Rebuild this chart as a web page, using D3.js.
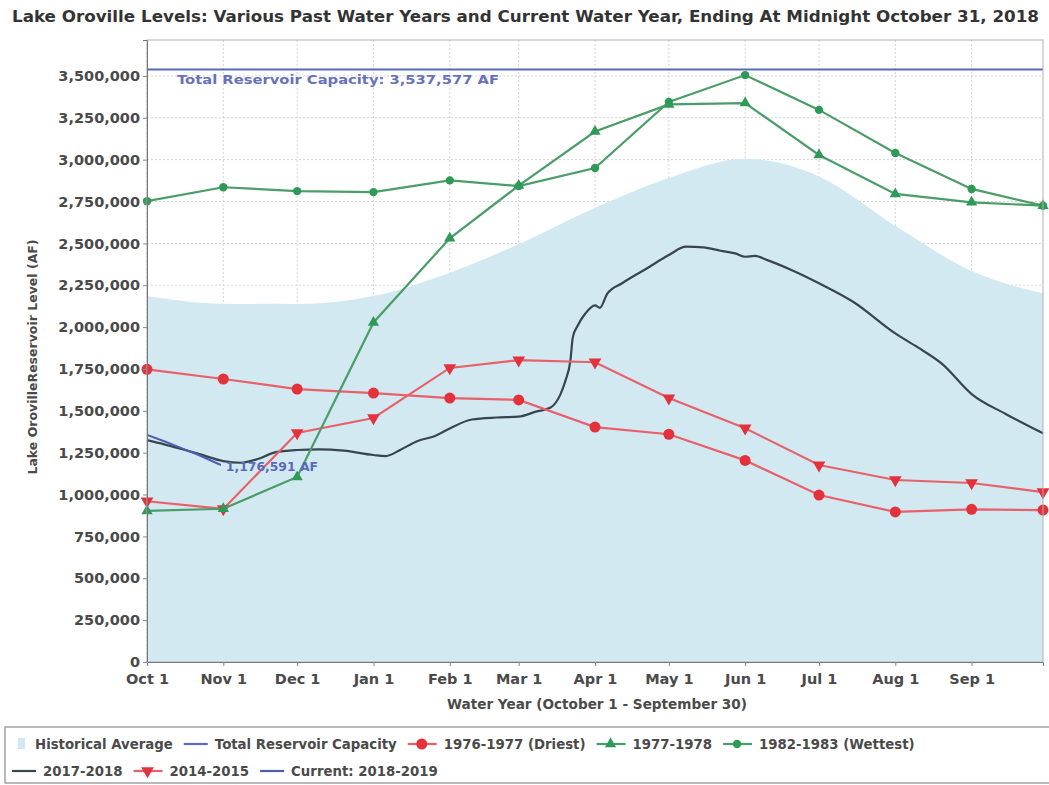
<!DOCTYPE html>
<html><head><meta charset="utf-8">
<script src="https://cdn.jsdelivr.net/npm/d3@7"></script>
<style>
body{margin:0;background:#fff}
svg{display:block}
text{font-family:"DejaVu Sans",sans-serif;font-weight:bold}
</style>
</head><body>
<svg id="chart" width="1049" height="785"></svg>
<script>
// ---------- DATA ----------
const tickDates = ["2017-10-01","2017-11-01","2017-12-01","2018-01-01","2018-02-01","2018-03-01","2018-04-01","2018-05-01","2018-06-01","2018-07-01","2018-08-01","2018-09-01"];
const tickLabels = ["Oct 1","Nov 1","Dec 1","Jan 1","Feb 1","Mar 1","Apr 1","May 1","Jun 1","Jul 1","Aug 1","Sep 1"];
const pointDates = ["2017-10-01","2017-11-01","2017-12-01","2018-01-01","2018-02-01","2018-03-01","2018-04-01","2018-05-01","2018-06-01","2018-07-01","2018-08-01","2018-09-01","2018-09-30"];
const historicalAverage = [2186000,2140000,2138000,2185000,2325000,2495000,2712000,2890000,3005000,2900000,2605000,2335000,2200000];
const driest1976_1977 = [1748000,1690000,1630000,1606000,1576000,1565000,1403000,1360000,1204000,997000,896000,912000,907000];
const y1977_1978 = [902000,915000,1105000,2028000,2530000,2845000,3168000,3330000,3338000,3028000,2795000,2745000,2725000];
const wettest1982_1983 = [2752000,2835000,2812000,2806000,2876000,2842000,2950000,3345000,3505000,3297000,3040000,2825000,2725000];
const y2014_2015 = [960000,914000,1368000,1457000,1756000,1803000,1790000,1576000,1396000,1176000,1087000,1069000,1015000];
const wy2017Dates = ["2017-10-01","2017-10-08","2017-10-15","2017-10-22","2017-11-01","2017-11-08","2017-11-15","2017-11-22","2017-12-01","2017-12-10","2017-12-20","2018-01-01","2018-01-06","2018-01-12","2018-01-19","2018-01-26","2018-02-01","2018-02-10","2018-02-20","2018-03-01","2018-03-08","2018-03-14","2018-03-18","2018-03-20","2018-03-22","2018-03-23","2018-03-25","2018-03-28","2018-04-01","2018-04-03","2018-04-06","2018-04-12","2018-04-22","2018-05-01","2018-05-08","2018-05-15","2018-05-22","2018-05-28","2018-06-01","2018-06-05","2018-06-10","2018-06-20","2018-07-01","2018-07-15","2018-08-01","2018-08-10","2018-08-20","2018-09-01","2018-09-15","2018-09-30"];
const wy2017Values = [1325000,1300000,1272000,1243000,1200000,1190000,1212000,1252000,1266000,1270000,1262000,1236000,1230000,1268000,1320000,1350000,1395000,1448000,1460000,1465000,1495000,1520000,1600000,1680000,1800000,1940000,2010000,2080000,2130000,2115000,2200000,2262000,2350000,2430000,2480000,2476000,2456000,2440000,2420000,2425000,2400000,2340000,2262000,2150000,1962000,1880000,1780000,1600000,1480000,1366000];
const currentDates = ["2017-10-01","2017-10-08","2017-10-15","2017-10-22","2017-10-31"];
const currentValues = [1356000,1318000,1277000,1236000,1176591];
const capacity = 3537577;
const yTicks = d3.range(0, 3500001, 250000);

// ---------- LAYOUT ----------
const svg = d3.select("#chart");
const L = 147, R = 1043, T = 40, B = 662;
const parse = d3.timeParse("%Y-%m-%d");
const x = d3.scaleTime().domain([parse("2017-10-01"), parse("2018-09-30")]).range([L, R]);
const y = d3.scaleLinear().domain([0, capacity * 1.05]).range([B, T]);

const C = {
  area:"#d3e9f2", cap:"#5b69bb", red:"#e3323c", redLine:"#e8606a",
  green:"#2f9a58", greenLine:"#4a9d68", dark:"#37464e", cur:"#4d5cb5",
  grid:"#d4d4d4", text:"#4a4a4a"
};

// title
svg.append("text").attr("x", 12).attr("y", 22)
  .attr("font-size", 15).attr("fill","#333")
  .attr("textLength", 1027).attr("lengthAdjust","spacingAndGlyphs")
  .text("Lake Oroville Levels: Various Past Water Years and Current Water Year, Ending At Midnight October 31, 2018");

// plot background + grid
svg.append("rect").attr("x",L).attr("y",T).attr("width",R-L).attr("height",B-T).attr("fill","#fff");
const g = svg.append("g");
g.selectAll(".hg").data(yTicks).join("line")
  .attr("x1",L).attr("x2",R).attr("y1",d=>y(d)).attr("y2",d=>y(d))
  .attr("stroke",C.grid).attr("stroke-dasharray","2,2");
g.selectAll(".vg").data(tickDates).join("line")
  .attr("x1",d=>x(parse(d))).attr("x2",d=>x(parse(d))).attr("y1",T).attr("y2",B)
  .attr("stroke",C.grid).attr("stroke-dasharray","2,2");

// historical average area
const histData = pointDates.map((d,i)=>({d:parse(d), v:historicalAverage[i]}));
g.append("path").datum(histData)
  .attr("d", d3.area().x(p=>x(p.d)).y0(y(0)).y1(p=>y(p.v)).curve(d3.curveMonotoneX))
  .attr("fill", C.area);

// capacity line
g.append("line").attr("x1",L).attr("x2",R).attr("y1",y(capacity)).attr("y2",y(capacity))
  .attr("stroke",C.cap).attr("stroke-width",2);
g.append("text").attr("x",177).attr("y",y(capacity)+14).attr("font-size",13).attr("fill","#6672bb")
  .attr("textLength", 322).attr("lengthAdjust","spacingAndGlyphs")
  .text("Total Reservoir Capacity: " + d3.format(",")(capacity) + " AF");

// border
svg.append("rect").attr("x",L).attr("y",T).attr("width",R-L).attr("height",B-T)
  .attr("fill","none").attr("stroke","#b0b0b0");

const line = d3.line().x(p=>x(p.d)).y(p=>y(p.v));
function series(vals, lineColor, markColor, shape, size){
  const data = pointDates.map((d,i)=>({d:parse(d), v:vals[i]}));
  g.append("path").datum(data).attr("d", line).attr("fill","none")
    .attr("stroke", lineColor).attr("stroke-width", 2.2);
  g.selectAll(null).data(data).join("path")
    .attr("transform", p=>`translate(${x(p.d)},${y(p.v)})${shape==="down"?" rotate(180)":""}`)
    .attr("d", d3.symbol().type(shape==="circle"?d3.symbolCircle:d3.symbolTriangle).size(size))
    .attr("fill", markColor);
}

// 2017-2018 line
const wyData = wy2017Dates.map((d,i)=>({d:parse(d), v:wy2017Values[i]}));
g.append("path").datum(wyData).attr("d", line.curve(d3.curveMonotoneX)).attr("fill","none")
  .attr("stroke", C.dark).attr("stroke-width", 2.2);
line.curve(d3.curveLinear);

series(driest1976_1977, C.redLine, C.red, "circle", 95);
series(y2014_2015, C.redLine, C.red, "down", 70);
series(y1977_1978, C.greenLine, C.green, "up", 55);
series(wettest1982_1983, C.greenLine, C.green, "circle", 55);

const curData = currentDates.map((d,i)=>({d:parse(d), v:currentValues[i]}));
g.append("path").datum(curData).attr("d", line).attr("fill","none")
  .attr("stroke", C.cur).attr("stroke-width", 2);
g.append("text").attr("x", x(parse("2017-10-31"))+5).attr("y", y(currentValues[currentValues.length-1])+6)
  .attr("font-size",12.4).attr("fill","#5b69bb")
  .text(d3.format(",")(currentValues[currentValues.length-1]) + " AF");

// axes
const yAxis = svg.append("g").attr("transform",`translate(${L},0)`)
  .call(d3.axisLeft(y).tickValues(yTicks).tickFormat(d3.format(",")).tickSize(4).tickPadding(3));
const xAxis = svg.append("g").attr("transform",`translate(0,${B})`)
  .call(d3.axisBottom(x).tickValues(tickDates.map(parse)).tickFormat((d,i)=>tickLabels[i]).tickSize(4).tickPadding(8));
[yAxis,xAxis].forEach(a=>{
  a.selectAll("text").attr("font-size",14.5).attr("fill",C.text).attr("font-family",'"DejaVu Sans",sans-serif').attr("font-weight","bold");
  a.selectAll("line").attr("stroke","#888");
  a.select(".domain").attr("stroke","#777");
});

svg.append("text").attr("x",597).attr("y",709).attr("text-anchor","middle").attr("font-size",13.6).attr("fill",C.text)
  .text("Water Year (October 1 - September 30)");
svg.append("text").attr("transform","translate(37,357) rotate(-90)").attr("text-anchor","middle")
  .attr("font-size",12.5).attr("fill",C.text).text("Lake OrovilleReservoir Level (AF)");

// legend
svg.append("rect").attr("x",5).attr("y",727).attr("width",1060).attr("height",56)
  .attr("fill","#fff").attr("stroke","#8a8a8a").attr("stroke-width",1.2);
const legendRows = [
  [{t:"Historical Average",k:"area"},{t:"Total Reservoir Capacity",k:"cap"},{t:"1976-1977 (Driest)",k:"driest"},{t:"1977-1978",k:"y78"},{t:"1982-1983 (Wettest)",k:"wet"}],
  [{t:"2017-2018",k:"dark"},{t:"2014-2015",k:"y15"},{t:"Current: 2018-2019",k:"cur"}]
];
legendRows.forEach((row,ri)=>{
  let cx = ri===0 ? 9 : 11;
  const cy = ri===0 ? 744 : 771;
  row.forEach(it=>{
    const lg = svg.append("g");
    let textX;
    if(it.k==="area"){
      lg.append("rect").attr("x",cx+9).attr("y",cy-6).attr("width",7).attr("height",11).attr("fill",C.area);
      textX = cx + 26;
    } else {
      const col = {cap:C.cap,driest:C.redLine,y15:C.redLine,y78:C.greenLine,wet:C.greenLine,dark:C.dark,cur:C.cur}[it.k];
      const mk = {driest:["circle",C.red,95],y15:["down",C.red,70],y78:["up",C.green,55],wet:["circle",C.green,55]}[it.k];
      const w = mk ? 30 : 25;
      lg.append("line").attr("x1",cx+1).attr("x2",cx+w).attr("y1",cy).attr("y2",cy).attr("stroke",col).attr("stroke-width",2.2);
      if(mk){
        lg.append("path").attr("transform",`translate(${cx+w/2},${cy})${mk[0]==="down"?" rotate(180)":""}`)
          .attr("d", d3.symbol().type(mk[0]==="circle"?d3.symbolCircle:d3.symbolTriangle).size(mk[2])).attr("fill",mk[1]);
      }
      textX = cx + w + 7;
    }
    const tx = lg.append("text").attr("x",textX).attr("y",cy+4.5).attr("font-size",13.3).attr("fill",C.text).text(it.t);
    cx = textX + tx.node().getComputedTextLength() + 10;
  });
});
</script>
</body></html>
